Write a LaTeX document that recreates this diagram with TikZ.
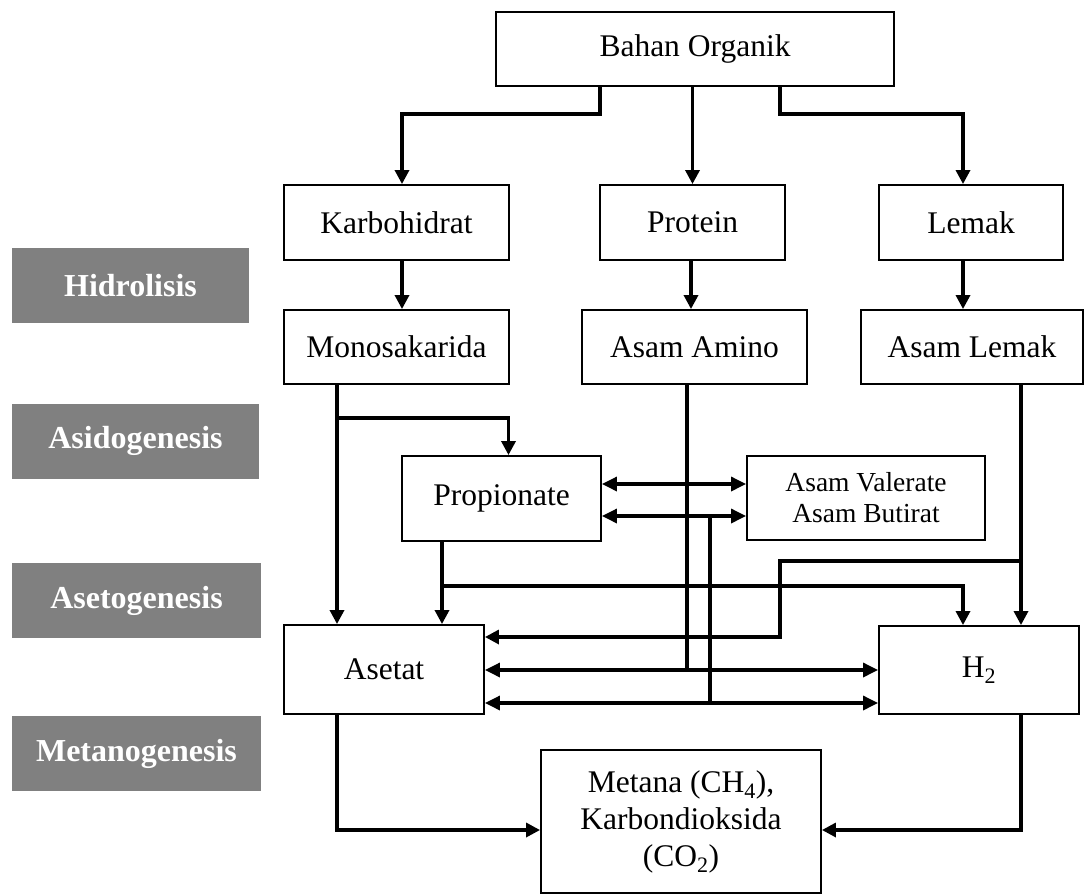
\documentclass[tikz,border=0pt]{standalone}
\usepackage{fontspec}
\setmainfont{Liberation Serif}
\usetikzlibrary{arrows.meta}
\definecolor{labgray}{RGB}{128,128,128}
\begin{document}
\begin{tikzpicture}[x=1pt,y=-1pt,
  box/.style={draw,line width=1.9pt,inner sep=0pt,align=center,
    font=\fontsize{31.5}{37}\selectfont},
  smallbox/.style={box,font=\fontsize{27.5}{31}\selectfont},
  phase/.style={fill=labgray,text=white,inner sep=0pt,
    minimum height=75pt,font=\fontsize{32}{37}\selectfont\bfseries},
  conn/.style={line width=3.3pt},
  arr/.style={conn,-{Triangle[width=14pt,length=14pt]}},
  darr/.style={conn,{Triangle[width=14pt,length=15pt]}-{Triangle[width=14pt,length=15pt]}}]
\useasboundingbox (0,0) rectangle (1084,895);

% phase labels
\node[phase,minimum width=237pt] (hid) at (130.5,285.5) {Hidrolisis};
\node[phase,minimum width=247pt] (asido) at (135.5,441) {Asidogenesis};
\node[phase,minimum width=249pt] (aseto) at (136.5,600.5) {Asetogenesis};
\node[phase,minimum width=249pt] (metano) at (136.5,753.5) {Metanogenesis};

% boxes
\node[box,minimum width=398pt,minimum height=74pt] (bahan) at (695,49) {Bahan Organik};
\node[box,minimum width=225pt,minimum height=75pt] (karbo) at (396.5,222.5) {Karbohidrat};
\node[box,minimum width=185pt,minimum height=75pt] (protein) at (692.5,222.5) {Protein};
\node[box,minimum width=184pt,minimum height=75pt] (lemak) at (971,222.5) {Lemak};
\node[box,minimum width=225pt,minimum height=74pt] (mono) at (396.5,347) {Monosakarida};
\node[box,minimum width=225pt,minimum height=74pt] (amino) at (694.5,347) {Asam Amino};
\node[box,minimum width=222pt,minimum height=74pt] (alemak) at (972,347) {Asam Lemak};
\node[box,minimum width=199pt,minimum height=85pt] (prop) at (501.5,498.5) {Propionate};
\node[smallbox,minimum width=238pt,minimum height=84pt] (valer) at (866,498) {Asam Valerate\\Asam Butirat};
\node[box,minimum width=200pt,minimum height=89pt] (asetat) at (384,669.5) {Asetat};
\node[box,minimum width=200pt,minimum height=88pt] (h2) at (979,670) {H\textsubscript{2}};
\node[box,minimum width=280pt,minimum height=143pt] (metana) at (681,821.5) {Metana (CH\textsubscript{4}),\\Karbondioksida\\(CO\textsubscript{2})};

% column / row guides
\coordinate (cM) at (337,0);
\coordinate (cP) at (508.5,0);
\coordinate (cPd) at (442,0);
\coordinate (cA) at (687,0);
\coordinate (cV) at (710,0);
\coordinate (cL) at (780,0);
\coordinate (cH1) at (963,0);
\coordinate (cH2) at (1021,0);
\coordinate (rB) at (0,418);
\coordinate (rV1) at (0,484);
\coordinate (rV2) at (0,516);
\coordinate (rL) at (0,561);
\coordinate (rP) at (0,586);
\coordinate (rA1) at (0,637);
\coordinate (rA2) at (0,670);
\coordinate (rA3) at (0,703);
\coordinate (rM) at (0,830);

% top level
\draw[arr] ([xshift=-95pt]bahan.south) -- ++(0,27) -| ([xshift=5.5pt]karbo.north);
\draw[arr] (bahan.south -| protein.north) -- (protein.north);
\draw[arr] ([xshift=85pt]bahan.south) -- ++(0,27) -| ([xshift=-8pt]lemak.north);

\draw[arr] ([xshift=5.5pt]karbo.south) -- ([xshift=5.5pt]mono.north);
\draw[arr] ([xshift=-1.5pt]protein.south) -- ([xshift=-1.5pt]protein.south |- amino.north);
\draw[arr] ([xshift=-8pt]lemak.south) -- ([xshift=-8pt]lemak.south |- alemak.north);

% middle
\draw[arr] (mono.south -| cM) -- (asetat.north -| cM);
\draw[arr] (cM |- rB) -| (prop.north -| cP);
\draw[darr] (prop.east |- rV1) -- (valer.west |- rV1);
\draw[darr] (prop.east |- rV2) -- (valer.west |- rV2);
\draw[conn] (amino.south -| cA) -- (cA |- rA2);
\draw[conn] (cV |- rV2) -- (cV |- rA3);
\draw[arr] (prop.south -| cPd) -- (asetat.north -| cPd);
\draw[arr] (cPd |- rP) -| (h2.north -| cH1);
\draw[arr] (alemak.south -| cH2) -- (h2.north -| cH2);
\draw[arr] (cH2 |- rL) -| (cL |- rA1) -- (asetat.east |- rA1);
\draw[darr] (asetat.east |- rA2) -- (h2.west |- rA2);
\draw[darr] (asetat.east |- rA3) -- (h2.west |- rA3);

% bottom
\draw[arr] (asetat.south -| cM) |- (metana.west |- rM);
\draw[arr] (h2.south -| cH2) |- (metana.east |- rM);
\end{tikzpicture}
\end{document}
